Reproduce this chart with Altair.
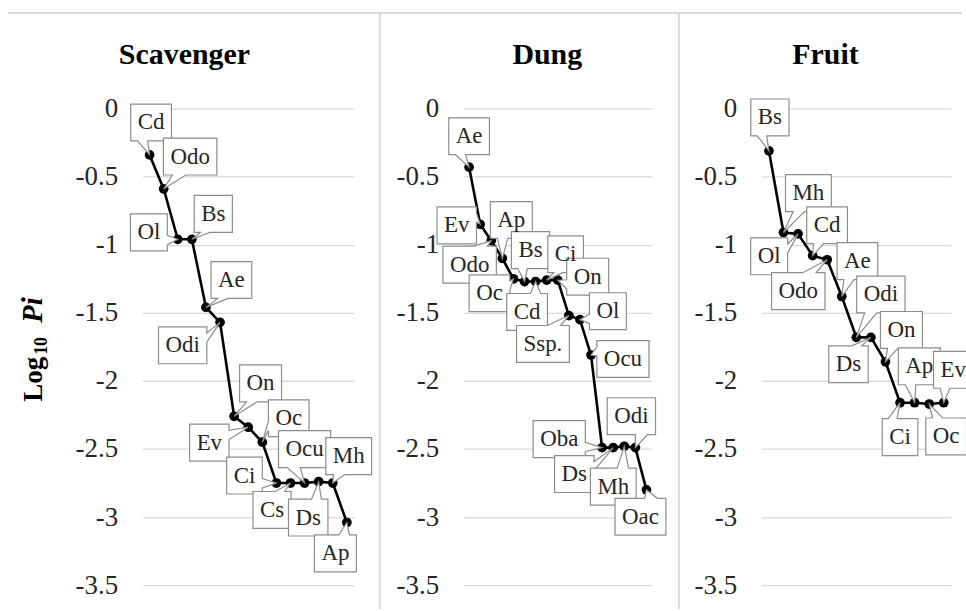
import altair as alt
import pandas as pd

# Rank-abundance data: species in rank order and log10 of relative abundance (Pi)
scav_species = ["Cd", "Odo", "Ol", "Bs", "Ae", "Odi", "On", "Ev", "Oc", "Ci",
                "Cs", "Ocu", "Ds", "Mh", "Ap"]
scav_logpi = [-0.34, -0.59, -0.96, -0.96, -1.46, -1.57, -2.26, -2.34, -2.45, -2.75,
              -2.75, -2.75, -2.74, -2.75, -3.04]

dung_species = ["Ae", "Ev", "Odo", "Ap", "Oc", "Bs", "Cd", "Ci", "On", "Ssp.",
                "Ol", "Ocu", "Oba", "Ds", "Mh", "Odi", "Oac"]
dung_logpi = [-0.43, -0.85, -0.97, -1.10, -1.25, -1.27, -1.27, -1.26, -1.26, -1.52,
              -1.55, -1.81, -2.49, -2.49, -2.48, -2.49, -2.80]

fruit_species = ["Bs", "Mh", "Ol", "Cd", "Odo", "Ae", "Odi", "Ds", "On", "Ci",
                 "Ap", "Oc", "Ev"]
fruit_logpi = [-0.31, -0.91, -0.92, -1.08, -1.11, -1.38, -1.68, -1.68, -1.86, -2.16,
               -2.16, -2.17, -2.16]

y_ticks = [0, -0.5, -1, -1.5, -2, -2.5, -3, -3.5]

# Callout placement: offset (px) of each label box centre from its point
scav_label_dx = [1.5, 26.5, -29, 21.5, 25.5, -37.5, 26.5, -39, 26.5, -32, -18.5, 0, -10.5, 16, -11.5]
scav_label_dy = [-32.5, -32.5, -7, -25.5, -27.5, 23, -33, 15.5, -24, -7.5, 27, -34, 36, -27, 31]
dung_label_dx = [0, -23.5, -21.7, 9, -24, 6, -8.5, 19, 30, -26, 28, 32, -43, -39, -11, -4, -6]
dung_label_dy = [-31, 1, 24, -38.5, 14.5, -31.5, 30.5, -26, -3.5, 28.5, -8.5, 4, -8.5, 26.5, 40.5, -31.5, 27]
fruit_label_dx = [1, 25, -29, 14.5, -29, 15.7, 24.6, -22.5, 16, 0, 4.7, 17, 9.5]
fruit_label_dy = [-33.5, -39.5, 22.5, -30.5, 31.5, -35.5, -43, 27, -32, 34.5, -36.5, 32.5, -33]

SERIF = "Liberation Serif"
GRID = "#d9d9d9"
BOX_STROKE = "#8c8c8c"
TEXT = "#262626"
PLOT_H = 478
LABEL_SIZE = 23
BOX_H = 37

# approximate Times advance widths (em) used to size the callout boxes
CHAR_W = {"A": .722, "B": .667, "C": .667, "D": .722, "E": .611, "M": .889, "O": .722,
          "S": .556, "a": .444, "b": .5, "c": .444, "d": .5, "e": .444, "h": .5,
          "i": .278, "l": .278, "n": .5, "o": .5, "p": .5, "s": .389, "u": .5,
          "v": .5, ".": .25}


def box_width(s):
    return sum(CHAR_W.get(ch, .5) for ch in s) * LABEL_SIZE + 14


def callout_path(cx, cy, w, h):
    """Rectangle callout centred at (cx, cy) whose wedge tip sits at the origin."""
    L, T, R, B = cx - w / 2, cy - h / 2, cx + w / 2, cy + h / 2
    px, py = -cx, -cy
    xa = L + w * (7 if px > 0 else 2) / 12
    xb = L + w * (10 if px > 0 else 5) / 12
    ya = T + h * (7 if py > 0 else 2) / 12
    yb = T + h * (10 if py > 0 else 5) / 12
    vertical = abs(py) > abs(px * h / w)
    pts = [(L, T)]
    if vertical and py < 0:
        pts += [(xa, T), (0, 0), (xb, T)]
    pts.append((R, T))
    if not vertical and px > 0:
        pts += [(R, ya), (0, 0), (R, yb)]
    pts.append((R, B))
    if vertical and py > 0:
        pts += [(xb, B), (0, 0), (xa, B)]
    pts.append((L, B))
    if not vertical and px < 0:
        pts += [(L, yb), (0, 0), (L, ya)]
    return "M" + " L".join(f"{x:.2f},{y:.2f}" for x, y in pts) + " Z"


def one(text=""):
    return pd.DataFrame({"t": [text]})


def guild_panel(title, species, logpi, ldx, ldy, width, title_x, extras=()):
    n = len(species)
    df = pd.DataFrame({
        "rank": list(range(1, n + 1)),
        "logpi": logpi,
        "species": species,
        "cx": ldx,
        "cy": ldy,
    })
    df["path"] = [callout_path(a, b, box_width(s), BOX_H)
                  for a, b, s in zip(ldx, ldy, species)]

    x = alt.X("rank:Q", scale=alt.Scale(domain=[0.5, n + 0.5], nice=False, zero=False),
              axis=None)
    y = alt.Y("logpi:Q",
              scale=alt.Scale(domain=[-3.5, 0], nice=False, zero=False),
              axis=alt.Axis(values=y_ticks, labelExpr="datum.value + ''",
                            labelFont=SERIF, labelFontSize=27, labelColor=TEXT,
                            labelPadding=25, domain=False, ticks=False,
                            grid=True, gridColor=GRID, gridWidth=1.3, title=None))
    base = alt.Chart(df).encode(x=x, y=y)

    line = base.mark_line(color="black", strokeWidth=2.6)
    dots = base.mark_circle(color="black", size=95, opacity=1)
    boxes = base.mark_point(size=4, fill="white", stroke=BOX_STROKE, strokeWidth=1.2,
                            opacity=1, fillOpacity=1).encode(
        shape=alt.Shape("path:N", scale=None))
    labels = base.mark_text(font=SERIF, fontSize=LABEL_SIZE, color=TEXT,
                            align="center", baseline="middle",
                            dx={"expr": "datum.cx"}, dy={"expr": "datum.cy"}).encode(
        text="species:N")

    head = alt.Chart(one(title)).mark_text(
        font=SERIF, fontSize=30, fontWeight="bold", color="black",
        align="center", baseline="alphabetic").encode(
        x=alt.value(title_x), y=alt.value(-45), text="t:N")

    return alt.layer(line, dots, boxes, labels, head, *extras).properties(
        width=width, height=PLOT_H)


def rule(x1, x2, y1, y2):
    return alt.Chart(one()).mark_rule(color=GRID, strokeWidth=2).encode(
        x=alt.value(x1), x2=alt.value(x2), y=alt.value(y1), y2=alt.value(y2))


def ytitle_part(text, x, y, size, italic=False):
    return alt.Chart(one(text)).mark_text(
        font=SERIF, fontSize=size, fontWeight="bold",
        fontStyle="italic" if italic else "normal", color="black",
        angle=270, align="left", baseline="alphabetic").encode(
        x=alt.value(x), y=alt.value(y), text="t:N")


scav = guild_panel(
    "Scavenger", scav_species, scav_logpi, scav_label_dx, scav_label_dy, 212, 42,
    extras=(
        rule(-135, 822, -96, -96),          # top border across all panels
        rule(238, 238, -96, 502),           # divider after first panel
        ytitle_part("Log", -101, 294, 27),
        ytitle_part("10", -96, 247, 18),
        ytitle_part("Pi", -101, 215, 29, italic=True),
    ))

dung = guild_panel(
    "Dung", dung_species, dung_logpi, dung_label_dx, dung_label_dy, 189, 84,
    extras=(rule(216, 216, -96, 502),))

fruit = guild_panel(
    "Fruit", fruit_species, fruit_logpi, fruit_label_dx, fruit_label_dy, 190, 64)

# the last callouts run past the right edge; a negative right pad trims them there
chart = alt.hconcat(scav, dung, fruit, spacing=110, bounds="flush").properties(
    padding={"left": 7, "top": 11, "right": -10, "bottom": 0},
    background="white",
).configure_view(stroke="transparent", strokeWidth=0)

chart.save("out.html", embed_options={"renderer": "svg", "actions": False})
